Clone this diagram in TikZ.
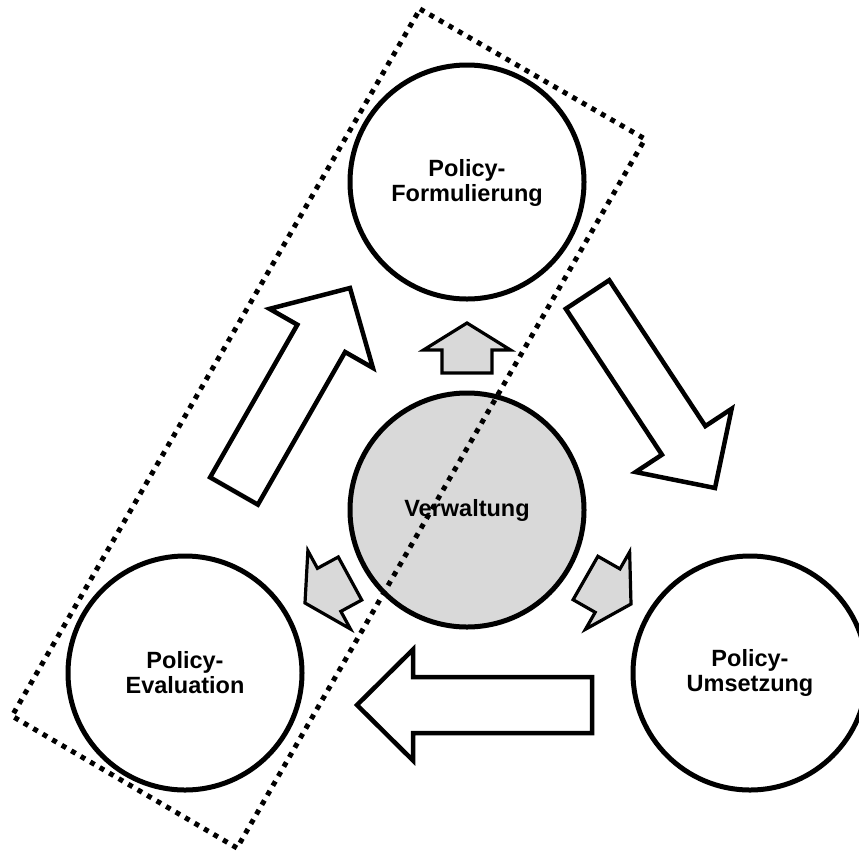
\documentclass[tikz,border=0pt]{standalone}
\usepackage{fontspec}
\setmainfont{Liberation Sans}
\usetikzlibrary{calc}
\definecolor{panelgray}{RGB}{217,217,217}

\tikzset{
  stage/.style={circle, draw=black, line width=5pt, minimum size=234pt,
    inner sep=0pt, fill=white, align=center,
    font=\fontsize{23.5}{25}\selectfont\bfseries},
  core/.style={stage, fill=panelgray},
  bigarrow/.style={draw=black, line width=4.5pt, fill=white, line join=miter},
  smallarrow/.style={draw=black, line width=3.2pt, fill=panelgray, line join=miter},
  scopebox/.style={draw=black, line width=5pt, dash pattern=on 5pt off 6pt},
}

% Block arrow from a tail coordinate to a tip coordinate.
% #1 style, #2 tail, #3 tip, #4 half shaft width, #5 half head width, #6 head length
\newcommand\blockarrow[6]{%
  \coordinate (#2-neck) at ($(#3)!#6!(#2)$);
  \draw[#1] ($(#2)!#4!90:(#3)$) -- ($(#2-neck)!#4!90:(#3)$)
    -- ($(#2-neck)!#5!90:(#3)$) -- (#3) -- ($(#2-neck)!#5!-90:(#3)$)
    -- ($(#2-neck)!#4!-90:(#3)$) -- ($(#2)!#4!-90:(#3)$) -- cycle;
}

\begin{document}
\begin{tikzpicture}[x=1pt, y=-1pt]
  \useasboundingbox (0,0) rectangle (859,852);

  % the four stages
  \node[stage] (form) at (467,182) {\\[-6pt]Policy-\\Formulierung};
  \node[core]  (verw) at (467,510) {Verwaltung};
  \node[stage] (eval) at (185,673) {Policy-\\Evaluation};
  \node[stage] (ums)  at (750,673) {Policy-\\Umsetzung};

  % cycle arrows
  \coordinate (a1tail) at (234,491);  \coordinate (a1tip) at (350,288);
  \coordinate (a2tail) at (587.5,294.5); \coordinate (a2tip) at (715,488);
  \coordinate (a3tail) at (592,705);  \coordinate (a3tip) at (357,705);
  \blockarrow{bigarrow}{a1tail}{a1tip}{27.5pt}{59.5pt}{58pt}
  \blockarrow{bigarrow}{a2tail}{a2tip}{26pt}{57.5pt}{57pt}
  \blockarrow{bigarrow}{a3tail}{a3tip}{28pt}{55.5pt}{56pt}

  % administration arrows
  \coordinate (g1tail) at (467,373);   \coordinate (g1tip) at (467,323);
  \coordinate (g2tail) at (350,578.5); \coordinate (g2tip) at (305,603);
  \coordinate (g3tail) at (585.5,578); \coordinate (g3tip) at (631,604);
  \blockarrow{smallarrow}{g1tail}{g1tip}{25pt}{43.5pt}{27pt}
  \blockarrow{smallarrow}{g2tail}{g2tip}{24.5pt}{44.5pt}{27.5pt}
  \blockarrow{smallarrow}{g3tail}{g3tip}{25pt}{44.5pt}{27pt}

  % dotted frame around formulation and evaluation
  \coordinate (bxT) at (420,9);
  \coordinate (bxR) at (645,139);
  \coordinate (bxB) at (237,848);
  \coordinate (bxL) at (12,716);
  \draw[scopebox] (bxT) -- (bxR) -- (bxB) -- (bxL) -- cycle;
\end{tikzpicture}
\end{document}
